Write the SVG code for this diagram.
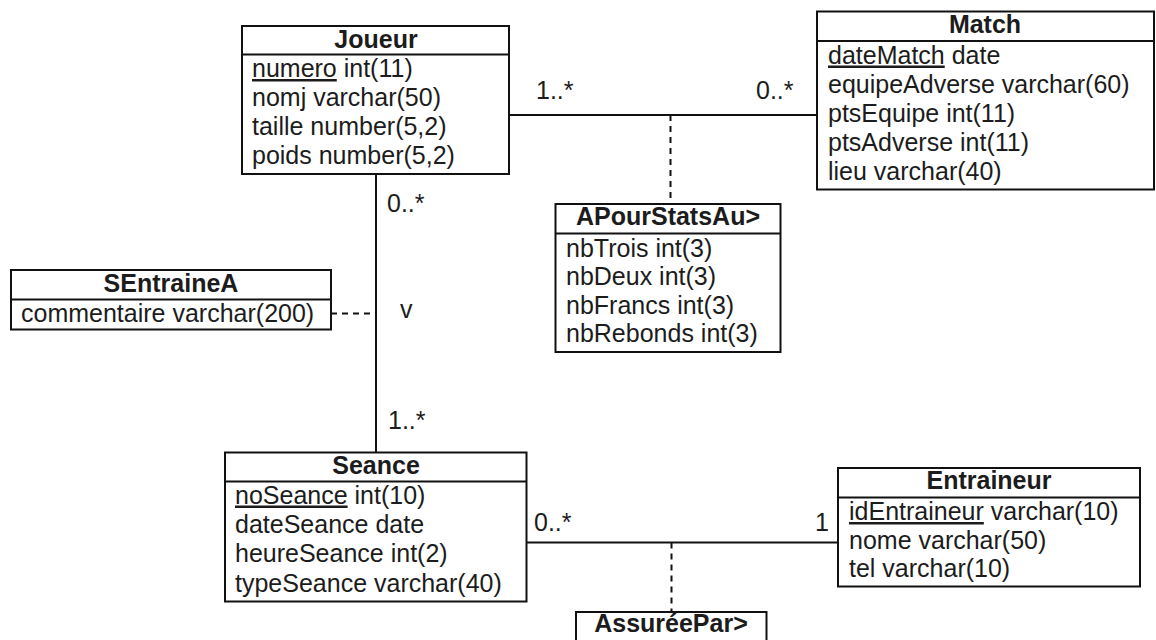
<svg xmlns="http://www.w3.org/2000/svg" width="1156" height="640" viewBox="0 0 1156 640">
  <style>
    text { font-family: "Liberation Sans", Arial, Helvetica, sans-serif; font-size: 25px; fill: #1c1c1c; }
    .title { font-weight: bold; text-anchor: middle; }
    .box { fill: #ffffff; stroke: #111111; stroke-width: 2; }
    .sep { stroke: #111111; stroke-width: 2; }
    .assoc { stroke: #111111; stroke-width: 2; fill: none; }
    .link { stroke: #111111; stroke-width: 2; fill: none; stroke-dasharray: 6 5; }
    .pk { text-decoration: underline; }
  </style>
  <rect width="1156" height="640" fill="#ffffff"/>

  <!-- associations and association-class links -->
  <g id="connectors">
    <line class="assoc" x1="509" y1="115" x2="817" y2="115"/>
    <line class="link" x1="670.5" y1="115" x2="670.5" y2="204"/>
    <line class="assoc" x1="376" y1="174" x2="376" y2="452"/>
    <line class="link" x1="331" y1="313.5" x2="376" y2="313.5"/>
    <line class="assoc" x1="527" y1="542.5" x2="838" y2="542.5"/>
    <line class="link" x1="671.5" y1="542.5" x2="671.5" y2="612"/>
    <text x="536" y="99">1..*</text>
    <text x="756" y="99">0..*</text>
    <text x="387" y="212">0..*</text>
    <text x="400" y="318">v</text>
    <text x="388" y="429">1..*</text>
    <text x="534" y="531">0..*</text>
    <text x="815" y="531">1</text>
  </g>

  <g id="joueur">
    <rect class="box" x="242" y="26" width="267" height="148"/>
    <line class="sep" x1="242" y1="54.5" x2="509" y2="54.5"/>
    <text class="title" x="376" y="48">Joueur</text>
    <text x="252" y="77"><tspan class="pk">numero</tspan> int(11)</text>
    <text x="252" y="106">nomj varchar(50)</text>
    <text x="252" y="135">taille number(5,2)</text>
    <text x="252" y="163.5">poids number(5,2)</text>
  </g>

  <g id="match">
    <rect class="box" x="817" y="11.5" width="337" height="178"/>
    <line class="sep" x1="817" y1="41" x2="1154" y2="41"/>
    <text class="title" x="985" y="33">Match</text>
    <text x="828" y="63.5"><tspan class="pk">dateMatch</tspan> date</text>
    <text x="828" y="92.5">equipeAdverse varchar(60)</text>
    <text x="828" y="121.5">ptsEquipe int(11)</text>
    <text x="828" y="150.5">ptsAdverse int(11)</text>
    <text x="828" y="180">lieu varchar(40)</text>
  </g>

  <g id="apourstatsau">
    <rect class="box" x="555.5" y="204" width="225" height="148"/>
    <line class="sep" x1="555.5" y1="233.5" x2="780.5" y2="233.5"/>
    <text class="title" x="668" y="225">APourStatsAu&gt;</text>
    <text x="566" y="256.5">nbTrois int(3)</text>
    <text x="566" y="285">nbDeux int(3)</text>
    <text x="566" y="313.5">nbFrancs int(3)</text>
    <text x="566" y="342">nbRebonds int(3)</text>
  </g>

  <g id="sentrainea">
    <rect class="box" x="11" y="270" width="320" height="59.5"/>
    <line class="sep" x1="11" y1="299.5" x2="331" y2="299.5"/>
    <text class="title" x="171" y="291.5">SEntraineA</text>
    <text x="21" y="321.5">commentaire varchar(200)</text>
  </g>

  <g id="seance">
    <rect class="box" x="225" y="452.5" width="301.5" height="149"/>
    <line class="sep" x1="225" y1="481.5" x2="526.5" y2="481.5"/>
    <text class="title" x="376" y="474">Seance</text>
    <text x="235" y="503.5"><tspan class="pk">noSeance</tspan> int(10)</text>
    <text x="235" y="532.5">dateSeance date</text>
    <text x="235" y="562">heureSeance int(2)</text>
    <text x="235" y="591.5">typeSeance varchar(40)</text>
  </g>

  <g id="entraineur">
    <rect class="box" x="838" y="468" width="302" height="118.5"/>
    <line class="sep" x1="838" y1="497.5" x2="1140" y2="497.5"/>
    <text class="title" x="989" y="489">Entraineur</text>
    <text x="849" y="520"><tspan class="pk">idEntraineur</tspan> varchar(10)</text>
    <text x="849" y="548.5">nome varchar(50)</text>
    <text x="849" y="577">tel varchar(10)</text>
  </g>

  <g id="assureepar">
    <rect class="box" x="576" y="612" width="190.5" height="60"/>
    <text class="title" x="671" y="632">AssuréePar&gt;</text>
  </g>
</svg>
